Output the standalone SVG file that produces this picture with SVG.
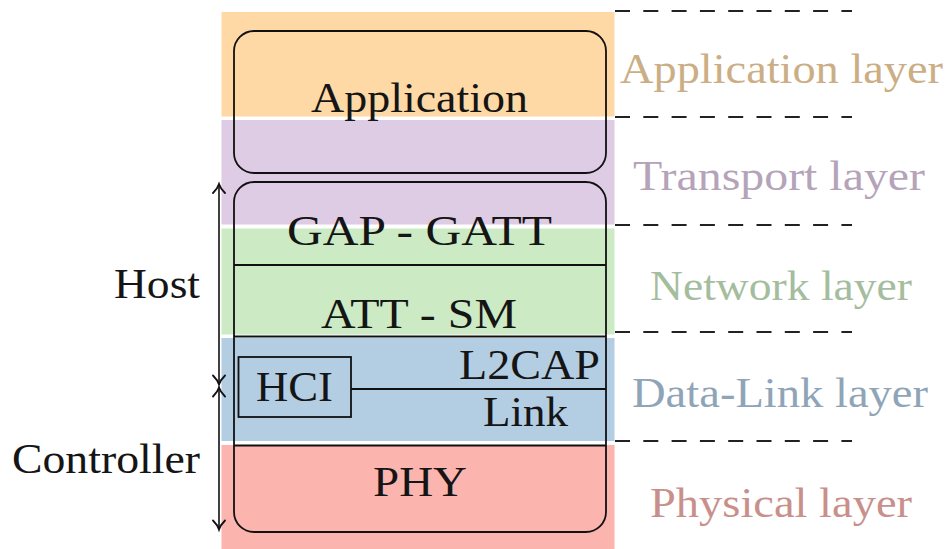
<svg xmlns="http://www.w3.org/2000/svg" width="947" height="549" viewBox="0 0 947 549">
  <defs>
    <style>
      text { font-family: 'Liberation Serif', 'DejaVu Serif', serif; font-size: 42px; }
      .lbl { fill: #151515; }
      .box { fill: none; stroke: #111; stroke-width: 1.8; }
      .sep { stroke: #111; stroke-width: 1.8; }
      .dash { stroke: #222; stroke-width: 2; stroke-dasharray: 15 13.3; }
      .arrow { stroke: #111; stroke-width: 1.6; fill: none; }
    </style>
    <marker id="tip" viewBox="-11 -8 13 16" refX="0" refY="0" markerWidth="13" markerHeight="16" markerUnits="userSpaceOnUse" orient="auto-start-reverse">
      <path d="M-9,-6 C-5.5,-2.5 -2,-0.6 0,0 C-2,0.6 -5.5,2.5 -9,6" fill="none" stroke="#111" stroke-width="1.8" stroke-linecap="round"/>
    </marker>
  </defs>

  <rect width="947" height="549" fill="#ffffff"/>

  <!-- layer bands -->
  <g id="bands">
    <rect x="221.5" y="12" width="393" height="104.5" fill="#FED9A6"/>
    <rect x="221.5" y="120" width="393" height="104.5" fill="#DECBE4"/>
    <rect x="221.5" y="228.5" width="393" height="106" fill="#CCEBC5"/>
    <rect x="221.5" y="338" width="393" height="103" fill="#B3CDE3"/>
    <rect x="221.5" y="445" width="393" height="104" fill="#FBB4AE"/>
  </g>

  <!-- layer boundaries -->
  <g id="boundaries">
    <line class="dash" x1="615" y1="11" x2="852" y2="11"/>
    <line class="dash" x1="615" y1="117" x2="852" y2="117"/>
    <line class="dash" x1="615" y1="225" x2="852" y2="225"/>
    <line class="dash" x1="615" y1="332" x2="852" y2="332"/>
    <line class="dash" x1="615" y1="441" x2="852" y2="441"/>
  </g>

  <!-- layer names -->
  <g id="layer-names">
    <text font-family="Liberation Serif, serif" x="620" y="83" textLength="323" lengthAdjust="spacingAndGlyphs" fill="#CBAE85">Application layer</text>
    <text font-family="Liberation Serif, serif" x="633" y="190" textLength="292" lengthAdjust="spacingAndGlyphs" fill="#B5A3BA">Transport layer</text>
    <text font-family="Liberation Serif, serif" x="650" y="300" textLength="262" lengthAdjust="spacingAndGlyphs" fill="#A4BD9E">Network layer</text>
    <text font-family="Liberation Serif, serif" x="632" y="407" textLength="296" lengthAdjust="spacingAndGlyphs" fill="#8FA5B7">Data-Link layer</text>
    <text font-family="Liberation Serif, serif" x="650" y="517" textLength="262" lengthAdjust="spacingAndGlyphs" fill="#C9908B">Physical layer</text>
  </g>

  <!-- application block -->
  <g id="application">
    <rect class="box" x="234" y="31" width="372" height="142" rx="20" ry="20"/>
    <text class="lbl" x="311" y="112" textLength="217" lengthAdjust="spacingAndGlyphs">Application</text>
  </g>

  <!-- protocol stack block -->
  <g id="stack">
    <rect class="box" x="234" y="182" width="372" height="350" rx="20" ry="20"/>
  </g>

  <g id="gap-gatt">
    <text class="lbl" x="287" y="245" textLength="265" lengthAdjust="spacingAndGlyphs">GAP - GATT</text>
  </g>

  <g id="att-sm">
    <line class="sep" x1="234" y1="265" x2="606" y2="265"/>
    <text class="lbl" x="321" y="328" textLength="196" lengthAdjust="spacingAndGlyphs">ATT - SM</text>
  </g>

  <g id="l2cap">
    <line class="sep" x1="234" y1="336.5" x2="606" y2="336.5"/>
    <text class="lbl" x="459" y="379" textLength="141" lengthAdjust="spacingAndGlyphs">L2CAP</text>
  </g>

  <g id="hci">
    <rect class="box" x="238.5" y="357" width="112.5" height="60"/>
    <text class="lbl" x="256" y="401" textLength="77" lengthAdjust="spacingAndGlyphs">HCI</text>
  </g>

  <g id="link">
    <line class="sep" x1="351" y1="389" x2="606" y2="389"/>
    <text class="lbl" x="483" y="426" textLength="85" lengthAdjust="spacingAndGlyphs">Link</text>
  </g>

  <g id="phy">
    <line class="sep" x1="234" y1="445.5" x2="606" y2="445.5"/>
    <text class="lbl" x="373" y="496" textLength="94" lengthAdjust="spacingAndGlyphs">PHY</text>
  </g>

  <!-- host / controller extents -->
  <g id="host">
    <text class="lbl" x="114" y="298" textLength="86" lengthAdjust="spacingAndGlyphs">Host</text>
  </g>
  <g id="controller">
    <text class="lbl" x="12" y="473" textLength="188" lengthAdjust="spacingAndGlyphs">Controller</text>
  </g>

  <g id="connectors">
    <line class="arrow" x1="219" y1="184" x2="219" y2="384.5" marker-start="url(#tip)" marker-end="url(#tip)"/>
    <line class="arrow" x1="219" y1="387.5" x2="219" y2="529.5" marker-start="url(#tip)" marker-end="url(#tip)"/>
  </g>
</svg>
